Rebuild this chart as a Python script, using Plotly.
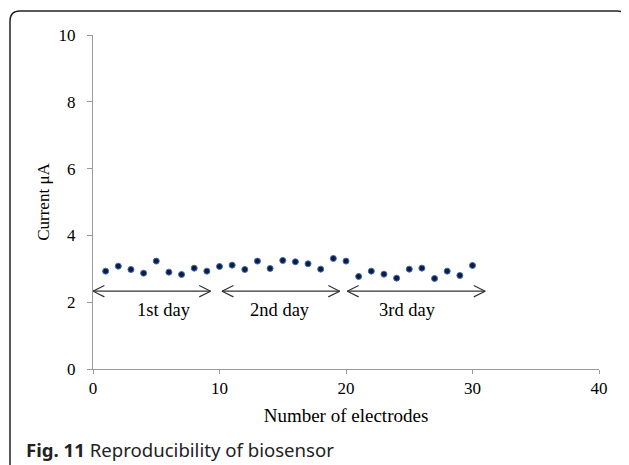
import plotly.graph_objects as go

# electrode number vs current (uA)
electrodes = list(range(1, 31))
current = [2.93, 3.08, 2.98, 2.87, 3.23, 2.90, 2.83, 3.02, 2.93, 3.07,
           3.11, 2.98, 3.23, 3.01, 3.25, 3.21, 3.15, 2.99, 3.31, 3.23,
           2.77, 2.93, 2.84, 2.72, 2.99, 3.02, 2.71, 2.93, 2.80, 3.10]

# day groups shown as double-headed arrows
day_labels = ["1st day", "2nd day", "3rd day"]
arrow_start = [0.0, 10.2, 20.1]
arrow_end = [9.3, 19.5, 31.0]
arrow_y = 2.33
label_x = [5.6, 14.8, 24.9]
label_y = 1.76

x_ticks = [0, 10, 20, 30, 40]
y_ticks = [0, 2, 4, 6, 8, 10]

# page body has an 8px margin, so the figure starts at (8, 8) on screen
OFF = 8
W, H = 629 - OFF, 465 - OFF
L, R, T, B = 93 - OFF, 30, 35 - OFF, 96
PW, PH = W - L - R, H - T - B


def px(x):
    # screen pixel -> paper x
    return (x - OFF - L) / PW


def py(y):
    # screen pixel -> paper y
    return (H - B - (y - OFF)) / PH


serif = "Liberation Serif"
fig = go.Figure()

# arrows: shaft + open chevron heads
hx, hy = 0.9, 0.17
for a, b in zip(arrow_start, arrow_end):
    xs = [a, b, None, a + hx, a, a + hx, None, b - hx, b, b - hx]
    ys = [arrow_y, arrow_y, None, arrow_y + hy, arrow_y, arrow_y - hy,
          None, arrow_y + hy, arrow_y, arrow_y - hy]
    fig.add_trace(go.Scatter(x=xs, y=ys, mode="lines",
                             line=dict(color="#333333", width=1.2),
                             hoverinfo="skip", showlegend=False))

fig.add_trace(go.Scatter(
    x=electrodes, y=current, mode="markers",
    marker=dict(size=6, color="#101c3a", line=dict(color="#3d6fc4", width=1)),
    showlegend=False,
))

for t, x in zip(day_labels, label_x):
    fig.add_annotation(x=x, y=label_y, text=t, showarrow=False,
                       font=dict(family=serif, size=18.5, color="black"))

# caption
fig.add_annotation(
    xref="paper", yref="paper", x=px(24), y=py(449),
    xanchor="left", yanchor="middle", showarrow=False,
    text="<b>Fig. 11</b> Reproducibility of biosensor",
    font=dict(family="Noto Sans", size=18.6, color="#222222"),
)

# rounded frame around figure
r = 10
x0, x1, y0, y1 = 10, 627, 11, 473
path = (f"M {px(x0)},{py(y1)} L {px(x0)},{py(y0 + r)} "
        f"Q {px(x0)},{py(y0)} {px(x0 + r)},{py(y0)} "
        f"L {px(x1 - r)},{py(y0)} Q {px(x1)},{py(y0)} {px(x1)},{py(y0 + r)} "
        f"L {px(x1)},{py(y1)}")
fig.add_shape(type="path", xref="paper", yref="paper", path=path,
              line=dict(color="#222222", width=1.5))

fig.update_layout(
    width=W, height=H,
    margin=dict(l=L, r=R, t=T, b=B),
    plot_bgcolor="white", paper_bgcolor="white",
    font=dict(family=serif, size=17, color="black"),
    xaxis=dict(
        range=[0, 40], tickvals=x_ticks, showgrid=False, zeroline=False,
        showline=True, linecolor="#9a9a9a", linewidth=1,
        ticks="outside", ticklen=4, tickcolor="#9a9a9a",
        tickfont=dict(family=serif, size=17, color="black"),
        title=dict(text="Number of electrodes", font=dict(family=serif, size=19), standoff=11),
    ),
    yaxis=dict(
        range=[0, 10], tickvals=y_ticks, showgrid=False, zeroline=False,
        showline=True, linecolor="#9a9a9a", linewidth=1,
        ticks="outside", ticklen=5, tickcolor="#9a9a9a", ticklabelstandoff=8,
        tickfont=dict(family=serif, size=17, color="black"),
        title=dict(text="Current μA", font=dict(family=serif, size=17), standoff=4),
    ),
)

fig.write_html("out.html")
